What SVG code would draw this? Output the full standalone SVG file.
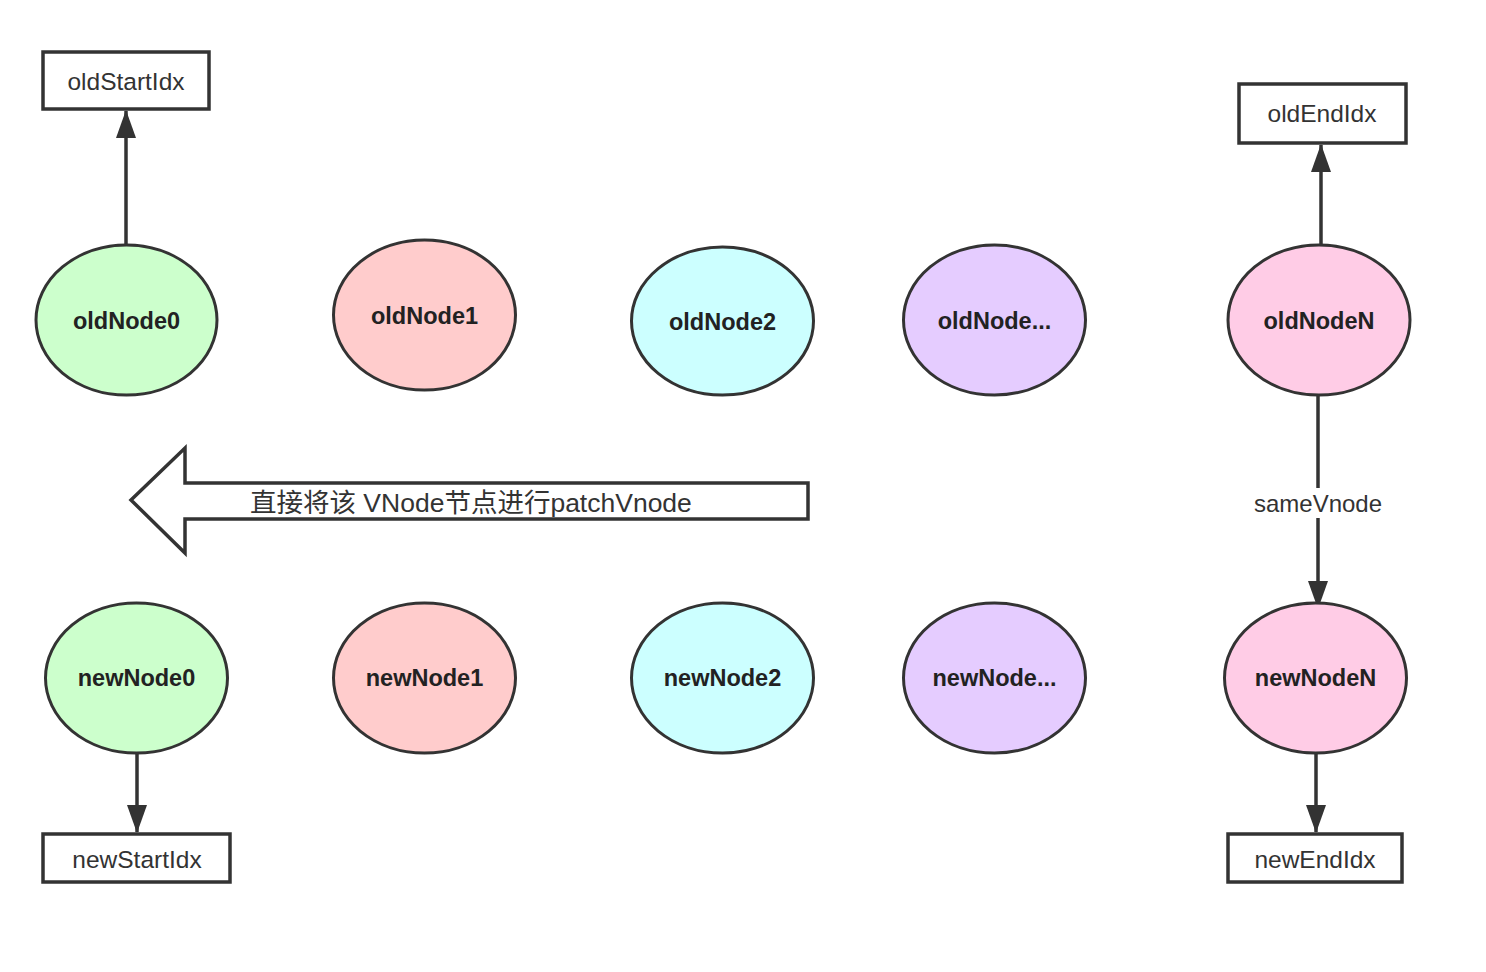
<svg xmlns="http://www.w3.org/2000/svg" width="1486" height="972" viewBox="0 0 1486 972">
<style>
.node ellipse{stroke:#333;stroke-width:3}
.nl{font-family:"Liberation Sans",Arial,sans-serif;font-weight:bold;font-size:23.5px;fill:#222;text-anchor:middle;dominant-baseline:central}
.box rect{fill:#fff;stroke:#333;stroke-width:3.5}
.bl{font-family:"Liberation Sans",Arial,sans-serif;font-size:24.5px;fill:#333;text-anchor:middle;dominant-baseline:central}
.edge{stroke:#333;stroke-width:3.5;fill:none;marker-end:url(#ah)}
.lbl{font-family:"Liberation Sans",Arial,sans-serif;font-size:24px;fill:#333;text-anchor:middle}
.g{fill:#ccffcc}.r{fill:#ffcccc}.c{fill:#ccffff}.p{fill:#e5ccff}.k{fill:#ffcce6}
</style>
<defs>
<marker id="ah" markerUnits="userSpaceOnUse" markerWidth="30" markerHeight="22" viewBox="0 0 28 22" refX="27" refY="11" orient="auto">
<path d="M0,1 L28,11 L0,21 Z" fill="#333"/>
</marker>
</defs>
<rect width="1486" height="972" fill="#fff"/>
<g id="connectors">
<line class="edge" x1="126" y1="245" x2="126" y2="111"/>
<line class="edge" x1="1321" y1="245" x2="1321" y2="145"/>
<line class="edge" x1="1318" y1="395" x2="1318" y2="608"/>
<line class="edge" x1="137" y1="753" x2="137" y2="832"/>
<line class="edge" x1="1316" y1="753" x2="1316" y2="832"/>
<rect x="1250" y="488" width="136" height="30" fill="#fff"/>
<text class="lbl" x="1318" y="512">sameVnode</text>
</g>
<g id="oldStartIdx" class="box"><rect x="43" y="52" width="166" height="57"/><text class="bl" x="126" y="81">oldStartIdx</text></g>
<g id="oldEndIdx" class="box"><rect x="1239" y="84" width="167" height="59"/><text class="bl" x="1322" y="113">oldEndIdx</text></g>
<g id="newStartIdx" class="box"><rect x="43" y="834" width="187" height="48"/><text class="bl" x="137" y="859">newStartIdx</text></g>
<g id="newEndIdx" class="box"><rect x="1228" y="834" width="174" height="48"/><text class="bl" x="1315" y="859">newEndIdx</text></g>
<g id="oldNode0" class="node"><ellipse class="g" cx="126.5" cy="320" rx="90.5" ry="75"/><text class="nl" x="126.5" y="321">oldNode0</text></g>
<g id="oldNode1" class="node"><ellipse class="r" cx="424.5" cy="315" rx="91" ry="75"/><text class="nl" x="424.5" y="316">oldNode1</text></g>
<g id="oldNode2" class="node"><ellipse class="c" cx="722.5" cy="321" rx="91" ry="74"/><text class="nl" x="722.5" y="322">oldNode2</text></g>
<g id="oldNodeDots" class="node"><ellipse class="p" cx="994.5" cy="320" rx="91" ry="75"/><text class="nl" x="994.5" y="321">oldNode...</text></g>
<g id="oldNodeN" class="node"><ellipse class="k" cx="1319" cy="320" rx="91" ry="75"/><text class="nl" x="1319" y="321">oldNodeN</text></g>
<g id="newNode0" class="node"><ellipse class="g" cx="136.5" cy="678" rx="91" ry="75"/><text class="nl" x="136.5" y="678">newNode0</text></g>
<g id="newNode1" class="node"><ellipse class="r" cx="424.5" cy="678" rx="91" ry="75"/><text class="nl" x="424.5" y="678">newNode1</text></g>
<g id="newNode2" class="node"><ellipse class="c" cx="722.5" cy="678" rx="91" ry="75"/><text class="nl" x="722.5" y="678">newNode2</text></g>
<g id="newNodeDots" class="node"><ellipse class="p" cx="994.5" cy="678" rx="91" ry="75"/><text class="nl" x="994.5" y="678">newNode...</text></g>
<g id="newNodeN" class="node"><ellipse class="k" cx="1315.5" cy="678" rx="91" ry="75"/><text class="nl" x="1315.5" y="678">newNodeN</text></g>
<g id="bigArrow">
<path d="M131,500 L185,448 L185,483 L808,483 L808,519 L185,519 L185,553 Z" fill="#fff" stroke="#333" stroke-width="3.5" stroke-linejoin="miter"/>
<text x="250" y="512" font-family="'Liberation Sans','Noto Sans CJK SC',sans-serif" font-size="26.5px" fill="#333">直接将该 VNode节点进行patchVnode</text>
</g>
</svg>
